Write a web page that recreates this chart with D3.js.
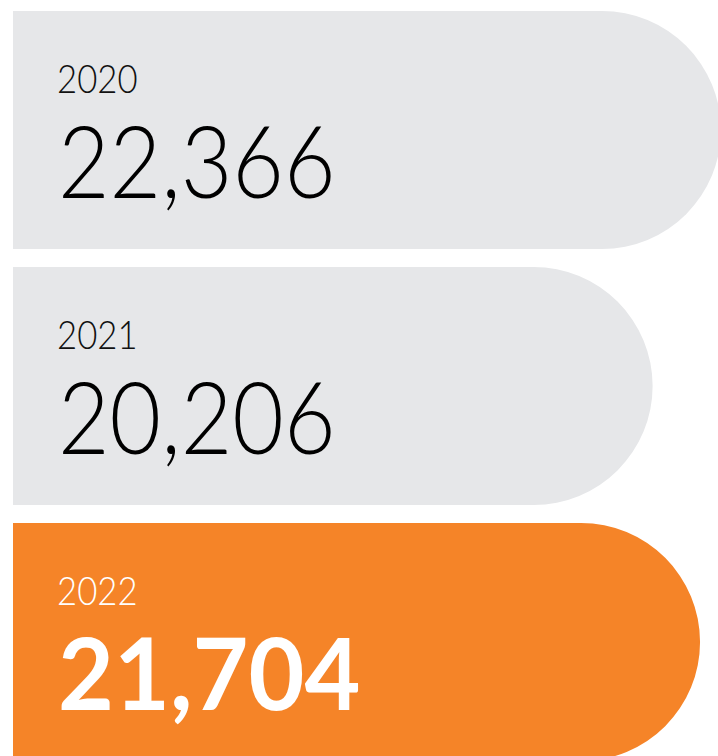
<!DOCTYPE html>
<html lang="en">
<head>
<meta charset="UTF-8" />
<title>Yearly totals</title>
<script src="https://cdn.jsdelivr.net/npm/d3@7"></script>
<style>
  html, body { margin: 0; padding: 0; background: #fff; }
  svg { display: block; }
  .year { font-family: Lato, "Open Sans", sans-serif; font-weight: 300; }
  .num { font-family: Lato, "Open Sans", sans-serif; font-weight: 300; }
  .num.bold { font-weight: 700; }
</style>
</head>
<body>
<script>
// the three years and their totals
var years = ["2020", "2021", "2022"];
var values = [22366, 20206, 21704];
var highlight = "2022";

var w = 718, h = 756;

var svg = d3.select("body")
  .append("svg")
  .attr("width", w)
  .attr("height", h);

// bar length grows from the left edge
var xScale = d3.scaleLinear()
  .domain([0, 22366])
  .range([13, 721]);

var yScale = d3.scaleBand()
  .domain(years)
  .range([11, 761])
  .paddingInner(18 / 256)
  .paddingOuter(0);

var fmt = d3.format(",");

// bar with a half-round right end
function pill(v, y0) {
  var bh = yScale.bandwidth();
  var r = bh / 2;
  var x0 = xScale(0), x1 = xScale(v);
  return "M" + x0 + "," + y0 +
    "H" + (x1 - r) +
    "A" + r + "," + r + " 0 0 1 " + (x1 - r) + "," + (y0 + bh) +
    "H" + x0 + "Z";
}

var rows = svg.selectAll("g.row")
  .data(years.map(function(y, i) { return { year: y, value: values[i] }; }))
  .enter()
  .append("g")
  .attr("class", "row");

rows.append("path")
  .attr("d", function(d) { return pill(d.value, yScale(d.year)); })
  .style("fill", function(d) { return d.year === highlight ? "#F58428" : "#E6E7E9"; });

// lato is wider than the original face, so squeeze it a bit
rows.append("text")
  .attr("class", "year")
  .attr("transform", function(d) { return "translate(57," + (yScale(d.year) + 82) + ") scale(0.89,1)"; })
  .style("font-size", "39px")
  .style("fill", function(d) { return d.year === highlight ? "#fff" : "#111"; })
  .text(function(d) { return d.year; });

rows.append("text")
  .attr("class", function(d) { return d.year === highlight ? "num bold" : "num"; })
  .attr("transform", function(d) {
    var sx = d.year === highlight ? 0.965 : 0.89;
    return "translate(58," + (yScale(d.year) + 187) + ") scale(" + sx + ",1)";
  })
  .style("font-size", "100px")
  .style("fill", function(d) { return d.year === highlight ? "#fff" : "#000"; })
  .text(function(d) { return fmt(d.value); });
</script>
</body>
</html>
